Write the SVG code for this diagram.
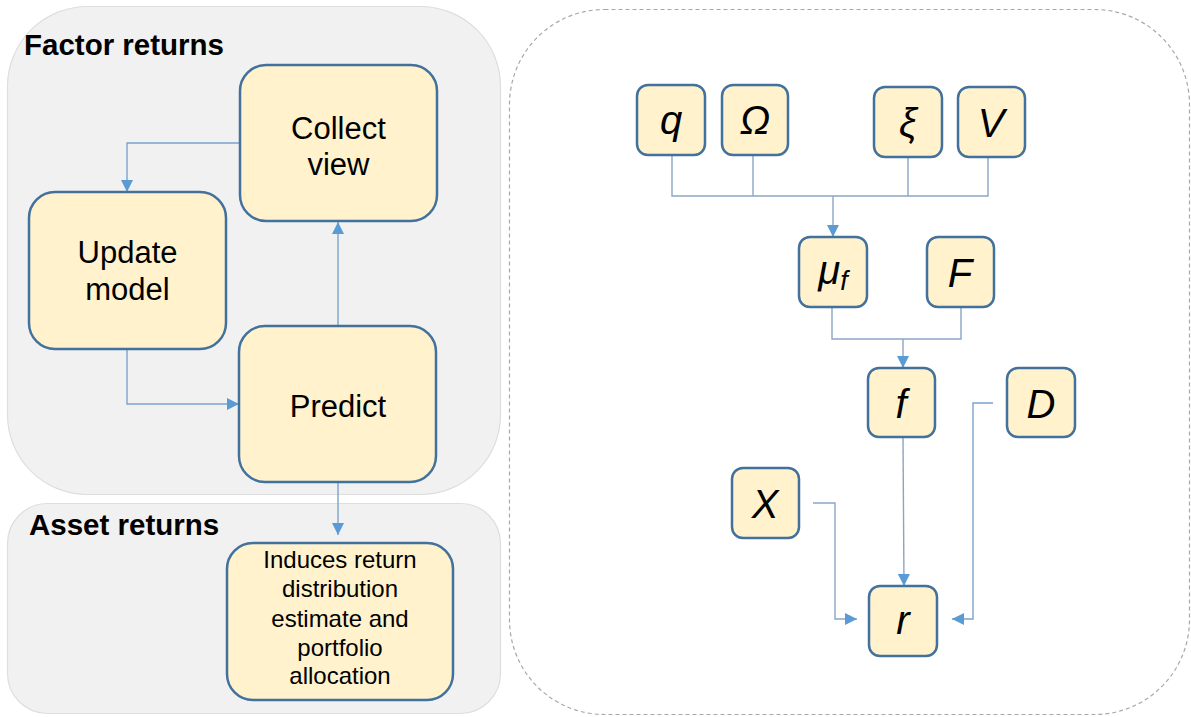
<svg xmlns="http://www.w3.org/2000/svg" width="1191" height="717" viewBox="0 0 1191 717">
  <style>
    .panel { fill: #f1f1f1; stroke: #dedede; stroke-width: 1.2; }
    .frame { fill: #ffffff; stroke: #a8a8a8; stroke-width: 1.2; stroke-dasharray: 4 3; }
    .node { fill: #fff2cc; stroke: #41719c; stroke-width: 2.5; }
    .title { font-family: "Liberation Sans", Arial, sans-serif; font-weight: bold; font-size: 29.5px; fill: #000; }
    .label { font-family: "Liberation Sans", Arial, sans-serif; font-size: 31px; fill: #000; text-anchor: middle; }
    .small { font-family: "Liberation Sans", Arial, sans-serif; font-size: 24px; fill: #000; text-anchor: middle; }
    .sym { font-family: "Liberation Sans", Arial, sans-serif; font-style: italic; font-size: 40px; fill: #000; text-anchor: middle; }
    .wire { fill: none; stroke: #7ba3cf; stroke-width: 1.4; }
    .wire2 { fill: none; stroke: #8aa5c4; stroke-width: 1.4; }
  </style>
  <defs>
    <marker id="arrow" viewBox="0 0 10 10" markerUnits="userSpaceOnUse" markerWidth="12" markerHeight="12" refX="10" refY="5" orient="auto">
      <path d="M0,0 L10,5 L0,10 z" fill="#5b9bd5"/>
    </marker>
  </defs>

  <!-- background panels -->
  <g id="panels">
    <rect class="panel" x="7.5" y="6.5" width="493" height="488" rx="80" ry="80"/>
    <text class="title" x="24" y="55">Factor returns</text>
    <rect class="panel" x="7.5" y="503.5" width="493" height="210" rx="40" ry="40"/>
    <text class="title" x="29" y="535">Asset returns</text>
    <rect class="frame" x="509.5" y="9.5" width="680" height="705" rx="95" ry="95"/>
  </g>

  <!-- connectors -->
  <g id="connectors">
    <path class="wire" d="M239,143 H127 V192" marker-end="url(#arrow)"/>
    <path class="wire" d="M127,349 V404 H239" marker-end="url(#arrow)"/>
    <path class="wire" d="M338,326 V222" marker-end="url(#arrow)"/>
    <path class="wire" d="M338,482 V535" marker-end="url(#arrow)"/>

    <path class="wire2" d="M672,155 V196 H988 V157"/>
    <path class="wire2" d="M753,155 V196"/>
    <path class="wire2" d="M908,157 V196"/>
    <path class="wire2" d="M833,196 V237" marker-end="url(#arrow)"/>

    <path class="wire2" d="M832,307 V339 H961 V307"/>
    <path class="wire2" d="M903,339 V368" marker-end="url(#arrow)"/>

    <path class="wire2" d="M903,437 L904,586" marker-end="url(#arrow)"/>
    <path class="wire2" d="M813,503 H835 V619 H857" marker-end="url(#arrow)"/>
    <path class="wire" d="M993,403 H973 V619 H952" marker-end="url(#arrow)"/>
  </g>

  <!-- process nodes -->
  <g id="collect-view">
    <rect class="node" x="240" y="65" width="197" height="156" rx="26"/>
    <text class="label" x="338.5" y="139">Collect</text>
    <text class="label" x="338.5" y="175">view</text>
  </g>
  <g id="update-model">
    <rect class="node" x="29" y="192" width="197" height="157" rx="26"/>
    <text class="label" x="127.5" y="263">Update</text>
    <text class="label" x="127.5" y="300">model</text>
  </g>
  <g id="predict">
    <rect class="node" x="239" y="326" width="197" height="156" rx="26"/>
    <text class="label" x="338" y="417">Predict</text>
  </g>
  <g id="induces">
    <rect class="node" x="227" y="543" width="226" height="157" rx="26"/>
    <text class="small" x="340" y="568">Induces return</text>
    <text class="small" x="340" y="597">distribution</text>
    <text class="small" x="340" y="627">estimate and</text>
    <text class="small" x="340" y="656">portfolio</text>
    <text class="small" x="340" y="684">allocation</text>
  </g>

  <!-- model variables -->
  <g id="q">
    <rect class="node" x="637" y="85" width="68" height="70" rx="11"/>
    <text class="sym" x="671" y="134">q</text>
  </g>
  <g id="omega">
    <rect class="node" x="722" y="85" width="66" height="70" rx="11"/>
    <text class="sym" x="755" y="134">Ω</text>
  </g>
  <g id="xi">
    <rect class="node" x="874" y="87" width="68" height="70" rx="11"/>
    <text class="sym" x="908" y="137">ξ</text>
  </g>
  <g id="V">
    <rect class="node" x="958" y="87" width="67" height="70" rx="11"/>
    <text class="sym" x="991" y="137">V</text>
  </g>
  <g id="mu-f">
    <rect class="node" x="799" y="237" width="68" height="70" rx="11"/>
    <text class="sym" x="833" y="284">μ<tspan font-size="27" dy="6">f</tspan></text>
  </g>
  <g id="F">
    <rect class="node" x="927" y="237" width="67" height="70" rx="11"/>
    <text class="sym" x="960" y="287">F</text>
  </g>
  <g id="f">
    <rect class="node" x="868" y="368" width="67" height="69" rx="11"/>
    <text class="sym" x="901" y="418">f</text>
  </g>
  <g id="D">
    <rect class="node" x="1007" y="368" width="68" height="69" rx="11"/>
    <text class="sym" x="1041" y="418">D</text>
  </g>
  <g id="X">
    <rect class="node" x="732" y="468" width="67" height="70" rx="11"/>
    <text class="sym" x="765" y="518">X</text>
  </g>
  <g id="r">
    <rect class="node" x="869" y="586" width="68" height="70" rx="11"/>
    <text class="sym" x="903" y="634">r</text>
  </g>
</svg>
